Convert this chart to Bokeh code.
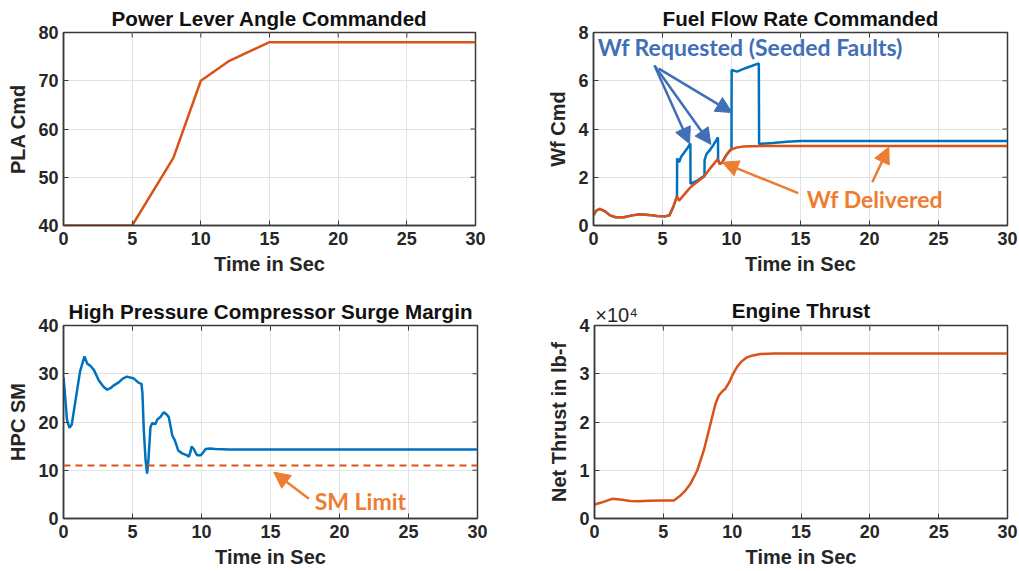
from bokeh.plotting import figure
from bokeh.layouts import column, row
from bokeh.models import (FixedTicker, Label, LinearAxis, Arrow, NormalHead,
                          CustomJSTickFormatter, Span)
from bokeh.embed import file_html
from bokeh.resources import INLINE

# ---------------- data ----------------
time_ticks = [0, 5, 10, 15, 20, 25, 30]

pla_t = [0, 5, 8, 10, 12, 15, 30]
pla_cmd = [40, 40, 54, 70, 74, 78, 78]

wf_del_t = [0, 0.2, 0.45, 0.8, 1.2, 1.6, 2.2, 2.8, 3.4, 4.0, 4.6, 5.2, 5.5, 5.8,
            6.05, 6.2, 6.6, 7.0, 7.5, 8.0, 8.5, 9.0, 9.15, 9.3, 9.6, 9.9, 10.3,
            10.8, 11.5, 13, 30]
wf_delivered = [0.42, 0.62, 0.69, 0.6, 0.42, 0.34, 0.34, 0.42, 0.47, 0.44, 0.39,
                0.38, 0.42, 0.8, 1.22, 1.03, 1.3, 1.57, 1.8, 2.02, 2.4, 2.75, 2.55,
                2.6, 2.9, 3.13, 3.22, 3.27, 3.29, 3.3, 3.3]

wf_req_t = [0, 0.2, 0.45, 0.8, 1.2, 1.6, 2.2, 2.8, 3.4, 4.0, 4.6, 5.2, 5.5, 5.8,
            6.05, 6.06, 6.2, 6.35, 6.6, 6.8, 7.02, 7.03, 7.5, 8.0, 8.04, 8.05, 8.2,
            8.4, 8.7, 9.02, 9.03, 9.15, 9.3, 9.6, 9.95, 10.0, 10.01, 10.4, 11.0,
            11.5, 11.98, 12.0, 13.0, 14.0, 15.0, 30]
wf_requested = [0.42, 0.62, 0.69, 0.6, 0.42, 0.34, 0.34, 0.42, 0.47, 0.44, 0.39,
                0.38, 0.42, 0.8, 1.22, 2.78, 2.62, 2.85, 3.05, 3.2, 3.4, 1.73, 1.85,
                2.05, 2.05, 2.72, 2.98, 3.1, 3.35, 3.65, 2.72, 2.55, 2.6, 2.9, 3.14,
                3.16, 6.45, 6.38, 6.52, 6.62, 6.72, 3.38, 3.42, 3.47, 3.5, 3.5]

sm_t = [0, 0.1, 0.25, 0.43, 0.6, 0.9, 1.2, 1.52, 1.72, 1.96, 2.2, 2.56, 2.9, 3.16,
        3.4, 3.65, 4.0, 4.3, 4.6, 5.1, 5.46, 5.65, 5.72, 5.82, 5.95, 6.06, 6.15,
        6.3, 6.43, 6.67, 6.79, 7.0, 7.27, 7.5, 7.63, 7.8, 7.88, 8.07, 8.31, 8.6,
        8.96, 9.08, 9.2, 9.28, 9.44, 9.6, 9.69, 9.93, 10.1, 10.3, 10.6, 11, 12,
        15, 20, 25, 30]
hpc_sm = [29.3, 26, 20.5, 18.8, 19.5, 25, 30.5, 33.6, 32.1, 31.6, 30.8, 28.6, 27.3,
          26.7, 27.0, 27.6, 28.2, 29.0, 29.4, 29.0, 28.1, 27.9, 26, 18.2, 12, 9.3,
          12, 18.9, 19.8, 19.6, 20.5, 21.0, 22.0, 21.5, 21.0, 18.5, 17.2, 16.2,
          14.1, 13.5, 13.1, 12.8, 13.8, 14.9, 14.4, 13.5, 13.1, 13.1, 13.6, 14.4,
          14.5, 14.4, 14.3, 14.3, 14.3, 14.3, 14.3]
sm_limit = 11

thr_t = [0, 0.5, 1.28, 2.0, 2.6, 3.2, 3.94, 5.0, 5.76, 6.25, 6.6, 6.97, 7.46, 7.94,
         8.42, 8.79, 9.03, 9.3, 9.51, 9.8, 10.0, 10.35, 10.7, 11.08, 11.5, 12.05,
         13, 15, 20, 25, 30]
net_thrust = [2900, 3300, 4080, 3900, 3650, 3600, 3700, 3750, 3750, 4770, 5800,
              7180, 9950, 14100, 19600, 23800, 25500, 26400, 26900, 28300, 29600,
              31400, 32600, 33400, 33800, 34100, 34200, 34200, 34200, 34200, 34200]
thrust_exponent_label = "×10⁴"

# ---------------- styling ----------------
BLUE = "#0072BD"
ORANGE = "#D95319"
ANN_BLUE = "#3F6FB6"
ANN_ORANGE = "#ED7D31"
FONT = "Liberation Sans"
AFONT = "Lato"
AXC = "#262626"
EDGE = "#3a3a3a"
FRAME_H = 193
TICK_PX = 5


def make_fig(title, ylabel, yr, yticks, fw, borders):
    l, r, t, b = borders
    p = figure(frame_width=fw, frame_height=FRAME_H, x_range=(0, 30), y_range=yr,
               output_backend="svg", toolbar_location=None,
               min_border_left=l, min_border_right=r, min_border_top=t,
               min_border_bottom=b, title=title,
               background_fill_color="white", border_fill_color="white")
    if title is not None:
        p.title.text_font = FONT
        p.title.text_font_size = "20.6px"
        p.title.text_font_style = "bold"
        p.title.align = "center"
        p.title.text_color = "#111111"
        p.title.standoff = 6
    p.outline_line_color = EDGE
    p.outline_line_width = 1.5
    for ax, tk in ((p.xaxis[0], time_ticks), (p.yaxis[0], yticks)):
        ax.ticker = FixedTicker(ticks=tk)
        ax.major_tick_in = TICK_PX
        ax.major_tick_out = 0
        ax.minor_tick_line_color = None
        ax.axis_line_color = EDGE
        ax.axis_line_width = 1.5
        ax.major_tick_line_color = EDGE
        ax.major_label_text_font = FONT
        ax.major_label_text_font_size = "18px"
        ax.major_label_text_font_style = "bold"
        ax.major_label_text_color = AXC
        ax.axis_label_text_font = FONT
        ax.axis_label_text_font_size = "20px"
        ax.axis_label_text_font_style = "bold"
        ax.axis_label_text_color = AXC
    p.xaxis.axis_label = "Time in Sec"
    p.xaxis.major_label_standoff = 6
    p.xaxis.axis_label_standoff = 5
    p.yaxis.axis_label = ylabel
    p.yaxis.major_label_standoff = 5
    p.yaxis.axis_label_standoff = 6
    p.xgrid.ticker = FixedTicker(ticks=time_ticks)
    p.ygrid.ticker = FixedTicker(ticks=yticks)
    p.xgrid.grid_line_color = "#e2e2e2"
    p.ygrid.grid_line_color = "#e2e2e2"
    # mirrored tick marks on the top and right edges of the box
    y0, y1 = yr
    dy = (y1 - y0) * TICK_PX / FRAME_H
    dx = 30 * TICK_PX / fw
    p.segment(x0=time_ticks, y0=[y1] * len(time_ticks), x1=time_ticks,
              y1=[y1 - dy] * len(time_ticks), line_color=EDGE, line_width=1)
    p.segment(x0=[30] * len(yticks), y0=yticks, x1=[30 - dx] * len(yticks),
              y1=yticks, line_color=EDGE, line_width=1)
    return p


def ann_label(p, x, y, text, color):
    p.add_layout(Label(x=x, y=y, text=text, text_font=AFONT, text_font_size="23px",
                       text_font_style="bold", text_color=color,
                       text_baseline="alphabetic"))


def ann_arrow(p, xs, ys, xe, ye, color):
    p.add_layout(Arrow(x_start=xs, y_start=ys, x_end=xe, y_end=ye,
                       line_color=color, line_width=2.5,
                       end=NormalHead(size=16, fill_color=color, line_color=color)))


# Panel 1: PLA
p1 = make_fig("Power Lever Angle Commanded", "PLA Cmd", (40, 80),
              [40, 50, 60, 70, 80], 412, (63, 25, 32, 60))
p1.line(pla_t, pla_cmd, line_color=ORANGE, line_width=2.5)

# Panel 2: Fuel flow
p2 = make_fig("Fuel Flow Rate Commanded", "Wf Cmd", (0, 8), [0, 2, 4, 6, 8],
              414, (93, 12, 32, 60))
p2.line(wf_req_t, wf_requested, line_color=BLUE, line_width=2.5)
p2.line(wf_del_t, wf_delivered, line_color=ORANGE, line_width=2.5)
ann_label(p2, 0.3, 7.38, "Wf Requested (Seeded Faults)", ANN_BLUE)
ann_arrow(p2, 4.42, 6.63, 6.96, 3.39, ANN_BLUE)
ann_arrow(p2, 4.42, 6.63, 8.51, 3.36, ANN_BLUE)
ann_arrow(p2, 4.73, 6.5, 10.04, 4.68, ANN_BLUE)
ann_label(p2, 15.45, 1.09, "Wf Delivered", ANN_ORANGE)
ann_arrow(p2, 14.83, 1.34, 9.33, 2.62, ANN_ORANGE)
ann_arrow(p2, 20.2, 1.79, 21.4, 3.25, ANN_ORANGE)

# Panel 3: surge margin
p3 = make_fig("High Pressure Compressor Surge Margin", "HPC SM", (0, 40),
              [0, 10, 20, 30, 40], 414, (63, 23, 40, 53))
p3.line(sm_t, hpc_sm, line_color=BLUE, line_width=2.5)
p3.add_layout(Span(location=sm_limit, dimension="width", line_color=ORANGE,
                   line_width=2, line_dash="7 5"))
ann_label(p3, 18.2, 3.73, "SM Limit", ANN_ORANGE)
ann_arrow(p3, 17.78, 4.08, 15.24, 9.6, ANN_ORANGE)

# Panel 4: thrust (title + exponent drawn by an axis above the box)
p4 = make_fig(None, "Net Thrust in lb-f", (0, 40000),
              [0, 10000, 20000, 30000, 40000], 413, (94, 12, 40, 53))
p4.yaxis[0].formatter = CustomJSTickFormatter(code="return (tick/1e4).toFixed(0);")
p4.line(thr_t, net_thrust, line_color=ORANGE, line_width=2.5)
top_ax = LinearAxis(
    ticker=FixedTicker(ticks=[1.6]),
    formatter=CustomJSTickFormatter(code="return '%s';" % thrust_exponent_label),
    major_tick_in=0, major_tick_out=0, minor_tick_line_color=None,
    axis_line_color=None, major_label_standoff=0,
    major_label_text_font=FONT, major_label_text_font_size="20px",
    major_label_text_color=AXC,
    axis_label="Engine Thrust", axis_label_standoff=-21,
    axis_label_text_font=FONT, axis_label_text_font_size="20.6px",
    axis_label_text_font_style="bold", axis_label_text_color="#111111")
p4.add_layout(top_ax, "above")

layout = column(row(p1, p2, spacing=0), row(p3, p4, spacing=0), spacing=0)

open("out.html", "w").write(file_html(layout, INLINE))
